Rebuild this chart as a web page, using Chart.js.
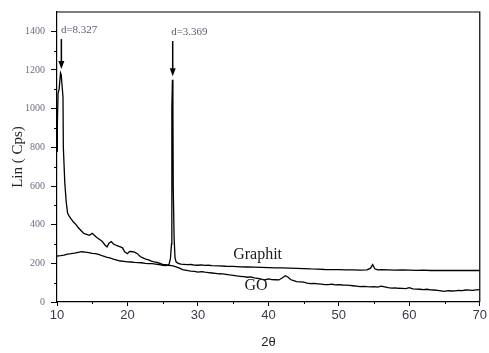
<!DOCTYPE html>
<html>
<head>
<meta charset="utf-8">
<script src="https://cdn.jsdelivr.net/npm/chart.js@4/dist/chart.umd.min.js"></script>
<style>
html,body{margin:0;padding:0;background:#fff;}
#wrap{width:489px;height:353px;position:relative;}
</style>
</head>
<body>
<div id="wrap"><canvas id="c"></canvas></div>
<script>
// ---- data ----
const goX = [10.0,10.05,10.15,10.3,10.5,10.6,10.85,10.9,11.1,11.3,11.5,11.7,12.0,12.3,12.7,13.0,13.4,13.8,14.2,14.6,15.0,15.3,15.6,16.0,16.4,16.8,17.1,17.4,17.7,18.0,18.3,18.6,19.0,19.3,19.6,20.0,20.3,20.7,21.0,21.4,21.8,22.2,22.6,23.0,23.4,23.8,24.2,24.6,25.0,25.4,25.8,26.2,26.6,27.0,27.4,27.8,28.2,28.6,29.0,29.5,30,30.5,31,31.5,32,32.5,33,33.5,34,34.5,35,35.5,36,36.5,37,37.5,38,38.5,39,39.5,40,40.5,41,41.5,42,42.4,42.8,43.2,43.6,44,44.5,45,45.5,46,46.5,47,47.5,48,48.5,49,49.5,50,50.5,51,51.5,52,52.5,53,53.5,54,54.5,55,55.5,56,56.5,57,57.5,58,58.5,59,59.5,60,60.5,61,61.5,62,62.5,63,63.5,64,64.5,65,65.5,66,66.5,67,67.5,68,68.5,69,69.5,70];
const goY = [780,920,1080,1100,1185,1175,1060,800,620,520,460,445,430,415,400,385,370,355,350,345,355,345,335,325,315,295,285,305,312,300,295,290,285,280,260,250,262,260,258,250,235,228,222,218,212,208,205,200,195,193,190,188,185,180,175,168,165,162,160,158,155,157,154,152,150,148,146,145,143,140,138,135,133,131,128,130,125,122,118,114,120,116,115,114,125,136,128,115,110,105,104,103,98,95,96,94,92,90,90,92,89,90,88,87,86,84,82,80,81,79,78,80,77,82,78,74,72,73,71,70,69,74,68,67,66,64,66,63,62,60,58,55,59,57,58,60,59,62,61,60,63,64];

const grX = [10.0,10.5,11,11.5,12,12.5,13,13.5,14,14.5,15,15.5,16,16.5,17,17.5,18,18.5,19,19.5,20,20.5,21,21.5,22,22.5,23,23.5,24,24.5,25,25.5,25.9,26.1,26.25,26.3,26.38,26.45,26.5,26.62,26.75,26.9,27.0,27.3,27.6,28,28.5,29,29.5,30,30.5,31,31.5,32,33,34,35,36,37,38,39,40,41,42,43,44,45,46,47,48,49,50,51,52,53,54,54.5,54.8,55.1,55.5,56,57,58,59,60,61,62,63,64,70];
const grY = [238,240,243,248,250,253,257,260,258,255,252,250,245,238,232,228,222,217,212,210,208,207,205,204,203,200,199,198,196,194,190,188,195,225,300,1000,1150,1000,590,330,230,208,205,198,196,195,193,194,191,190,192,189,190,188,187,185,184,182,181,180,179,178,177,176,175,174,173,171,170,168,167,167,166,166,165,166,175,193,172,166,167,166,165,166,165,164,165,163,163,163];

const xTicks = [10,20,30,40,50,60,70];
const yTicks = [0,200,400,600,800,1000,1200,1400];
const seriesNames = ['Graphit','GO'];
const peakLabels = ['d=8.327','d=3.369'];
const peakAt = [10.62, 26.42];
const arrowFrom = [1360, 1350];
const arrowTo = [1205, 1168];
const labelAnchor = [[10.55,1405],[26.2,1395]];
const seriesLabelAnchor = [[35.0,245],[36.6,82]];

const toPts = (xs, ys) => xs.map((x, i) => ({x: x, y: ys[i]}));

const decor = {
  id: 'decor',
  afterDraw(chart) {
    const ctx = chart.ctx;
    const a = chart.chartArea;
    const xs = chart.scales.x, ys = chart.scales.y;
    ctx.save();
    ctx.strokeStyle = '#000';
    ctx.lineWidth = 1.2;
    ctx.beginPath();
    ctx.moveTo(a.left, a.top); ctx.lineTo(a.right, a.top); ctx.lineTo(a.right, a.bottom);
    ctx.stroke();
    // minor ticks
    ctx.lineWidth = 1;
    for (let v = 100; v < 1500; v += 200) {
      const py = Math.round(ys.getPixelForValue(v)) + 0.5;
      ctx.beginPath(); ctx.moveTo(a.left - 3, py); ctx.lineTo(a.left, py); ctx.stroke();
    }
    for (let v = 15; v < 70; v += 10) {
      const px = Math.round(xs.getPixelForValue(v)) + 0.5;
      ctx.beginPath(); ctx.moveTo(px, a.bottom); ctx.lineTo(px, a.bottom + 2); ctx.stroke();
    }
    // arrows
    ctx.fillStyle = '#000';
    for (let i = 0; i < peakAt.length; i++) {
      const px = xs.getPixelForValue(peakAt[i]);
      const y0 = ys.getPixelForValue(arrowFrom[i]);
      const y1 = ys.getPixelForValue(arrowTo[i]);
      ctx.lineWidth = 1.5;
      ctx.beginPath(); ctx.moveTo(px, y0); ctx.lineTo(px, y1 - 6); ctx.stroke();
      ctx.beginPath(); ctx.moveTo(px - 3, y1 - 8); ctx.lineTo(px + 3, y1 - 8); ctx.lineTo(px, y1); ctx.closePath(); ctx.fill();
      ctx.font = '11px "Liberation Serif", serif';
      ctx.fillStyle = '#5a5f6e';
      ctx.textAlign = 'left'; ctx.textBaseline = 'middle';
      ctx.fillText(peakLabels[i], xs.getPixelForValue(labelAnchor[i][0]), ys.getPixelForValue(labelAnchor[i][1]));
      ctx.fillStyle = '#000';
    }
    // series labels
    ctx.font = '16px "Liberation Serif", serif';
    ctx.fillStyle = '#1a1a1a';
    ctx.textAlign = 'left'; ctx.textBaseline = 'middle';
    for (let i = 0; i < seriesNames.length; i++) {
      ctx.fillText(seriesNames[i], xs.getPixelForValue(seriesLabelAnchor[i][0]), ys.getPixelForValue(seriesLabelAnchor[i][1]));
    }
    ctx.restore();
  }
};

new Chart(document.getElementById('c'), {
  type: 'line',
  data: {
    datasets: [
      { label: seriesNames[0], data: toPts(grX, grY), borderColor: '#000', borderWidth: 1.3, pointRadius: 0, tension: 0, fill: false },
      { label: seriesNames[1], data: toPts(goX, goY), borderColor: '#000', borderWidth: 1.3, pointRadius: 0, tension: 0, fill: false }
    ]
  },
  options: {
    responsive: true,
    maintainAspectRatio: false,
    animation: false,
    layout: { padding: { left: 0, top: 7, right: 6, bottom: 0 } },
    plugins: { legend: { display: false }, tooltip: { enabled: false } },
    scales: {
      x: {
        type: 'linear', min: 10, max: 70,
        afterFit: s => { s.height = 51; },
        afterBuildTicks: s => { s.ticks = xTicks.map(v => ({value: v})); },
        grid: { drawOnChartArea: false, drawTicks: true, tickLength: 4, color: '#000', tickWidth: 1 },
        border: { display: true, color: '#000', width: 1.2 },
        ticks: { color: '#3a3a4a', padding: 2, maxRotation: 0, callback: v => String(v), font: { family: '"Liberation Sans Narrow", "Liberation Sans", sans-serif', size: 13 } },
        title: { display: true, text: '2θ', color: '#222', padding: { top: 0, bottom: 3 }, font: { family: '"Liberation Sans Narrow", "Liberation Sans", sans-serif', size: 13 } }
      },
      y: {
        type: 'linear', min: 0, max: 1500,
        afterFit: s => { s.width = 57; },
        afterBuildTicks: s => { s.ticks = yTicks.map(v => ({value: v})); },
        grid: { drawOnChartArea: false, drawTicks: true, tickLength: 6, color: '#000', tickWidth: 1 },
        border: { display: true, color: '#000', width: 1.2 },
        ticks: { color: '#6a6e80', padding: 6, callback: v => String(v), font: { family: '"Liberation Serif", serif', size: 10 } },
        title: { display: true, text: 'Lin ( Cps)', color: '#222', padding: { top: 9, bottom: 0 }, font: { family: '"Liberation Serif", serif', size: 15 } }
      }
    }
  },
  plugins: [decor]
});
</script>
</body>
</html>
